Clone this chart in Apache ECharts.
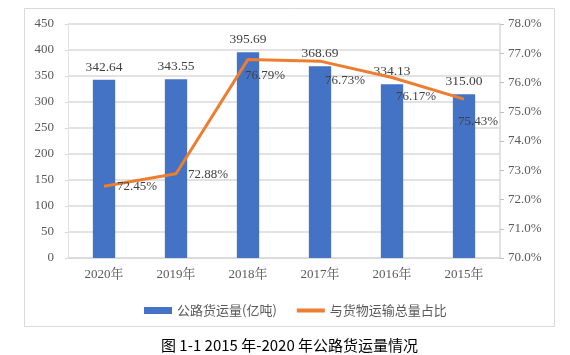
<!DOCTYPE html>
<html><head><meta charset="utf-8">
<script src="https://cdn.jsdelivr.net/npm/echarts@6/dist/echarts.min.js"></script>
<style>html,body{margin:0;padding:0;background:#fff}#c{width:570px;height:355px}</style>
</head><body><div id="c"></div>
<script>
const categories = ['2020年','2019年','2018年','2017年','2016年','2015年'];
const freightVolume = [342.64, 343.55, 395.69, 368.69, 334.13, 315.00];
const shareOfTotal = [72.45, 72.88, 76.79, 76.73, 76.17, 75.43];
const barName = '公路货运量(亿吨)';
const lineName = '与货物运输总量占比';
const caption = '图 1-1 2015 年-2020 年公路货运量情况';

const serif = "'Liberation Serif','Times New Roman','Noto Serif CJK SC','Noto Sans CJK SC',serif";
const txt = '#595959';
const lineOffsets = [[8,0],[7,1],[-8,16],[0,19],[-1,19],[-11,22]];

const chart = echarts.init(document.getElementById('c'), null, {renderer:'canvas'});
chart.setOption({
  animation:false,
  graphic:[
    {type:'rect', shape:{x:24.5,y:8.5,width:530,height:318}, style:{fill:'none',stroke:'#d9d9d9',lineWidth:1}, z:-1},
    {type:'text', left:161, top:338, style:{text:caption, font:"15px 'Noto Sans CJK SC','Liberation Sans',sans-serif", fill:'#000'}}
  ],
  grid:{left:68, right:70, top:24, bottom:97},
  legend:{
    top:299, left:139, itemGap:20, itemWidth:28, itemHeight:7,
    textStyle:{color:txt, fontSize:13, fontFamily:"'Noto Sans CJK SC',sans-serif"},
    data:[{name:barName, icon:'rect'},{name:lineName, icon:'path://M0,0 L28,0 L28,4 L0,4 Z'}]
  },
  xAxis:{
    type:'category', data:categories,
    axisLine:{lineStyle:{color:'#d9d9d9', width:1.5}},
    axisTick:{show:false},
    axisLabel:{color:txt, fontSize:13, fontFamily:serif, margin:10}
  },
  yAxis:[
    {type:'value', min:0, max:450, interval:50,
     axisLine:{show:true, lineStyle:{color:'#e3e3e3', width:1}},
     axisTick:{show:true, length:3, lineStyle:{color:'#d9d9d9'}},
     splitLine:{lineStyle:{color:'#d9d9d9', width:1.5}},
     axisLabel:{color:txt, fontSize:13, fontFamily:serif, margin:14}},
    {type:'value', min:70, max:78, interval:1,
     axisLine:{show:true, lineStyle:{color:'#d9d9d9', width:1.5}},
     axisTick:{show:true, length:4, inside:false, lineStyle:{color:'#bfbfbf'}},
     splitLine:{show:false},
     axisLabel:{color:txt, fontSize:13, fontFamily:serif, margin:8, formatter:v=>v.toFixed(1)+'%'}}
  ],
  series:[
    {type:'bar', name:barName, data:freightVolume, barWidth:'31%',
     itemStyle:{color:'#4472C4'},
     label:{show:true, position:'top', distance:6, color:'#404040', fontSize:13.5, fontFamily:serif,
       formatter:p=>p.value.toFixed(2)}},
    {type:'line', name:lineName, yAxisIndex:1, symbol:'circle', symbolSize:0.1, showSymbol:true,
     lineStyle:{color:'#ED7D31', width:3}, itemStyle:{color:'#ED7D31'},
     data:shareOfTotal.map((v,i)=>({value:v, label:{offset:lineOffsets[i]}})),
     label:{show:true, position:'right', color:'#404040', fontSize:13, fontFamily:serif,
       formatter:p=>p.value.toFixed(2)+'%'}, z:3}
  ]
});
</script></body></html>
